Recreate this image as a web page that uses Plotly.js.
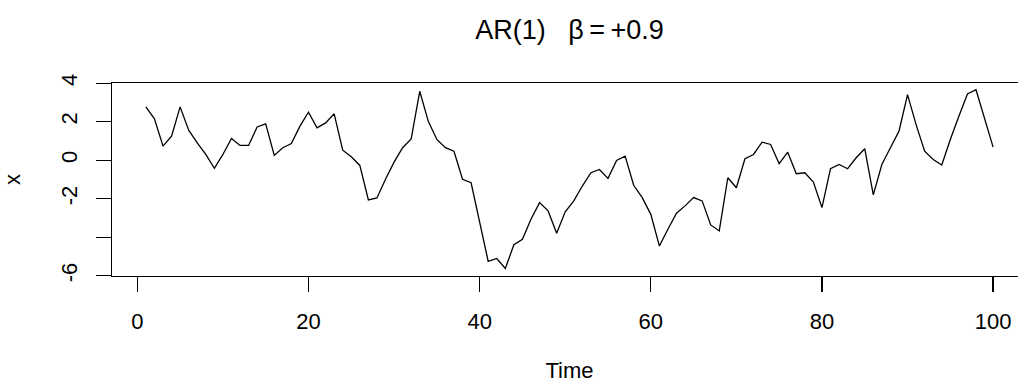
<!DOCTYPE html>
<html>
<head>
<meta charset="utf-8">
<script src="https://cdn.plot.ly/plotly-3.0.1.min.js"></script>
<style>
html, body { margin: 0; padding: 0; background: #fff; overflow: hidden; }
#chart { width: 1040px; height: 383px; }
</style>
</head>
<body>
<div id="chart"></div>
<script>
// Time index
const time = Array.from({length: 100}, (_, i) => i + 1);
// AR(1) series values
const xValues = [
  2.77, 2.15, 0.73, 1.25, 2.77, 1.56, 0.90, 0.30, -0.42, 0.30, 1.13, 0.77, 0.77, 1.73, 1.89, 0.25, 0.65,
  0.87, 1.77, 2.49, 1.68, 1.94, 2.41, 0.52, 0.18, -0.27, -2.06, -1.96, -0.99, -0.10, 0.65, 1.11, 3.58, 2.02,
  1.08, 0.65, 0.47, -0.99, -1.17, -3.24, -5.25, -5.10, -5.62, -4.39, -4.10, -3.06, -2.20, -2.63, -3.79, -2.68, -2.11,
  -1.34, -0.65, -0.48, -0.94, -0.01, 0.21, -1.30, -1.94, -2.81, -4.45, -3.58, -2.75, -2.37, -1.94, -2.11, -3.36, -3.67,
  -0.91, -1.43, 0.08, 0.30, 0.94, 0.82, -0.18, 0.42, -0.70, -0.65, -1.13, -2.46, -0.44, -0.22, -0.44, 0.13, 0.60,
  -1.80, -0.22, 0.65, 1.51, 3.41, 1.85, 0.47, 0.04, -0.25, 1.08, 2.28, 3.44, 3.66, 2.20, 0.68
];
// Axis ticks
const xTickVals = [0, 20, 40, 60, 80, 100];
const xTickText = ['0', '20', '40', '60', '80', '100'];
const yTickVals = [-6, -4, -2, 0, 2, 4];
const yTickText = ['-6', '', '-2', '0', '2', '4'];

const FONT = 'Liberation Sans, Arial, Helvetica, sans-serif';

const trace = {
  x: time,
  y: xValues,
  type: 'scatter',
  mode: 'lines',
  line: {color: '#000000', width: 1.3},
  hoverinfo: 'skip'
};

const layout = {
  width: 1040,
  height: 383,
  margin: {l: 112, r: 13, t: 83, b: 107, pad: 0},
  paper_bgcolor: '#ffffff',
  plot_bgcolor: '#ffffff',
  showlegend: false,
  font: {family: FONT, size: 22, color: '#000000'},
  title: {
    text: 'AR(1)   \u03b2\u2009=\u2009+0.9',
    font: {family: FONT, size: 27, color: '#000000'},
    xref: 'paper', x: 0.5, xanchor: 'center',
    yref: 'container', y: 1 - 30 / 383, yanchor: 'middle'
  },
  xaxis: {
    range: [-2.96, 103.96],
    tickmode: 'array',
    tickvals: xTickVals,
    ticktext: xTickText,
    ticks: 'outside',
    ticklen: 15,
    tickwidth: 1.3,
    tickcolor: '#000',
    ticklabelstandoff: 10,
    showline: true,
    linecolor: '#000',
    linewidth: 1.3,
    mirror: true,
    showgrid: false,
    zeroline: false,
    tickfont: {family: FONT, size: 22, color: '#000'},
    title: {text: 'Time', font: {family: FONT, size: 22, color: '#000'}, standoff: 33},
    automargin: false
  },
  yaxis: {
    range: [-6.01, 4.01],
    tickmode: 'array',
    tickvals: yTickVals,
    ticktext: yTickText,
    tickangle: -90,
    ticks: 'outside',
    ticklen: 15,
    tickwidth: 1.3,
    tickcolor: '#000',
    ticklabelstandoff: 10,
    showline: true,
    linecolor: '#000',
    linewidth: 1.3,
    mirror: true,
    showgrid: false,
    zeroline: false,
    tickfont: {family: FONT, size: 22, color: '#000'},
    title: {text: 'x', font: {family: FONT, size: 22, color: '#000'}, standoff: 30},
    automargin: false
  }
};

Plotly.newPlot('chart', [trace], layout, {displayModeBar: false, staticPlot: true});
</script>
</body>
</html>
